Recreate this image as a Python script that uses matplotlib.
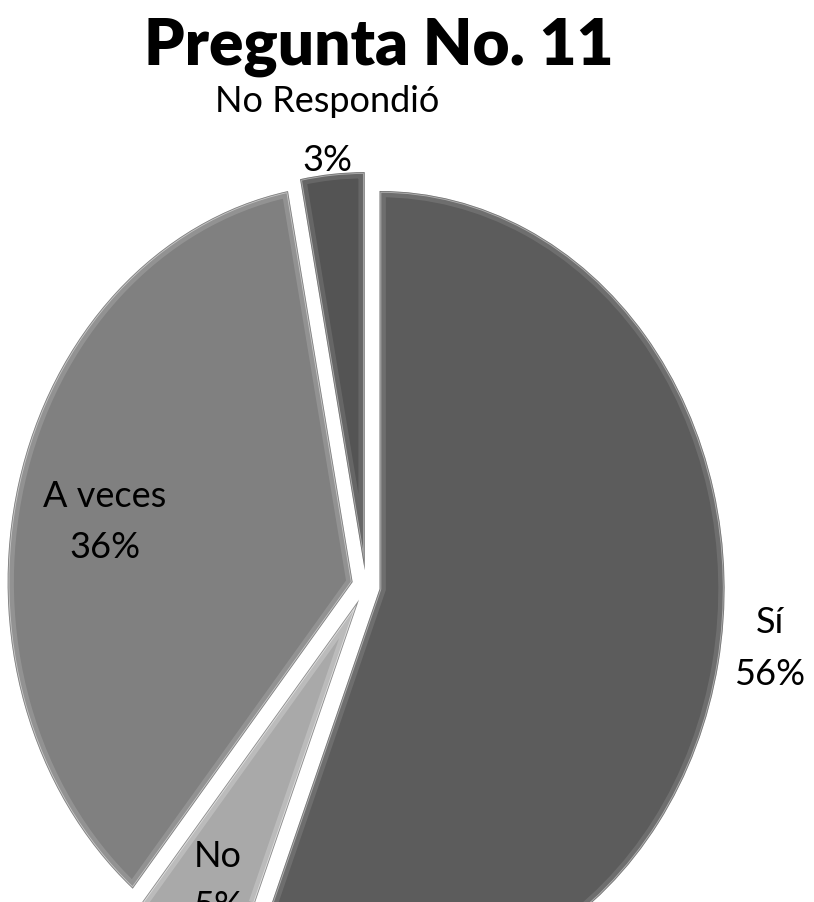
import matplotlib.pyplot as plt
from matplotlib.patches import Wedge
from matplotlib.colors import to_rgb

# datos
categorias = ["Sí", "No", "A veces", "No Respondió"]
porcentajes = [56, 5, 36, 3]
colores = ["#5c5c5c", "#a9a9a9", "#808080", "#545454"]

# posición de las etiquetas (coordenadas del eje) y espaciado de líneas
pos_etiquetas = [(1.171, -0.155), (-0.429, -0.740), (-0.757, 0.163), (-0.113, 1.145)]
interlineado = [1.7, 1.65, 1.65, 1.95]

plt.rcParams['font.family'] = ['Lato', 'DejaVu Sans']

fig = plt.figure(figsize=(8.14, 9.03), dpi=100)
ax = fig.add_axes([0, 0, 1, 1])

wedges, _ = ax.pie(porcentajes, colors=colores, startangle=90, counterclock=False,
                   explode=[0.04] * len(porcentajes),
                   wedgeprops=dict(edgecolor="white", linewidth=2.5))

# efecto de bisel: banda clara en el borde interior de cada sector
for w, c in zip(wedges, colores):
    r, g, b = to_rgb(c)
    claro = (min(1, r + 0.12), min(1, g + 0.12), min(1, b + 0.12))
    bisel = Wedge(w.center, w.r, w.theta1, w.theta2, facecolor="none",
                  edgecolor=claro, linewidth=9, alpha=0.6)
    ax.add_patch(bisel)
    bisel.set_clip_path(w)
    borde = Wedge(w.center, w.r, w.theta1, w.theta2, facecolor="none",
                  edgecolor="#3a3a3a", linewidth=1.2, alpha=0.5)
    ax.add_patch(borde)
    borde.set_clip_path(w)

# el gráfico original está estirado en vertical
ax.set_aspect("auto")
ax.set_xlim(-366 / 345, (814 - 366) / 345)
ax.set_ylim(-(903 - 587) / 398, 587 / 398)
ax.axis("off")

for cat, val, (x, y), ls in zip(categorias, porcentajes, pos_etiquetas, interlineado):
    ax.text(x, y, f"{cat}\n{val}%", ha="center", va="center", fontsize=26,
            linespacing=ls, color="black")

fig.text(0.465, 1 - 65 / 903, "Pregunta No. 11", ha="center", va="baseline",
         fontsize=46, fontweight="heavy")

fig.savefig("out.png", dpi=100, facecolor="white")
